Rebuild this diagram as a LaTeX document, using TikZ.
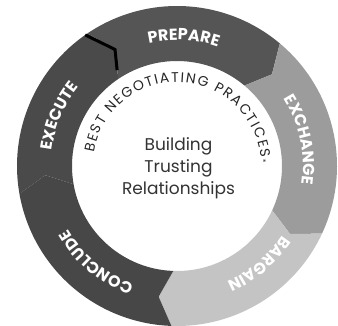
\documentclass[tikz,border=0pt]{standalone}
\usepackage{fontspec}
\setmainfont{Poppins}
\usepackage{tikz}
\usetikzlibrary{decorations.text, calc, positioning}
\definecolor{prepcol}{HTML}{555555}
\definecolor{exchcol}{HTML}{9C9C9C}
\definecolor{bargcol}{HTML}{C4C4C4}
\definecolor{conccol}{HTML}{474747}
\definecolor{execcol}{HTML}{4A4A4A}
\def\outr{160}
\def\innr{105}
\def\midr{132}
\def\labr{126}
\tikzset{
	ringlabel/.style={decorate, decoration={text along path, text align=center, text color=white,
		text={|\bfseries\fontsize{16}{16}\selectfont|#1}}},
	innerlabel/.style={decorate, decoration={text along path, text align=fit to path, text color=black!85,
		text={|\fontsize{14}{14}\selectfont|#1}}},
}

\begin{document}
\begin{tikzpicture}[x=1pt, y=1pt]
	\useasboundingbox (-177,-159) rectangle (161,166);
	\foreach \a/\b/\c in {124/50/prepcol, 50/-25/exchcol, -25/-92/bargcol, 268/190/conccol, 190/124/execcol}
		\fill[\c] (\a:\outr) arc[start angle=\a, end angle=\b, radius=\outr] -- (\b-6:\midr)
			-- (\b:\innr) arc[start angle=\b, end angle=\a, radius=\innr] -- (\a-6:\midr) -- cycle;
	\draw[line width=3pt, black] (125:\outr) -- (118:\midr) -- (122:\innr+8);

	\path[ringlabel=PREPARE] (122:\labr) arc[start angle=122, end angle=52, radius=\labr];
	\path[ringlabel=EXCHANGE] (47:\labr) arc[start angle=47, end angle=-23, radius=\labr];
	\path[ringlabel=BARGAIN] (-15:\labr) arc[start angle=-15, end angle=-85, radius=\labr];
	\path[ringlabel=CONCLUDE] (265:\labr) arc[start angle=265, end angle=195, radius=\labr];
	\path[ringlabel=EXECUTE] (192:\labr) arc[start angle=192, end angle=122, radius=\labr];

	\path[innerlabel={BEST NEGOTIATING PRACTICES|\scriptsize|®}] (171:84) arc[start angle=171, end angle=2, radius=84];

	\node (core) [align=center, font=\fontsize{17}{22}\selectfont, text=black!80] at (1.5,-2) {Building\\Trusting\\Relationships};
\end{tikzpicture}
\end{document}
